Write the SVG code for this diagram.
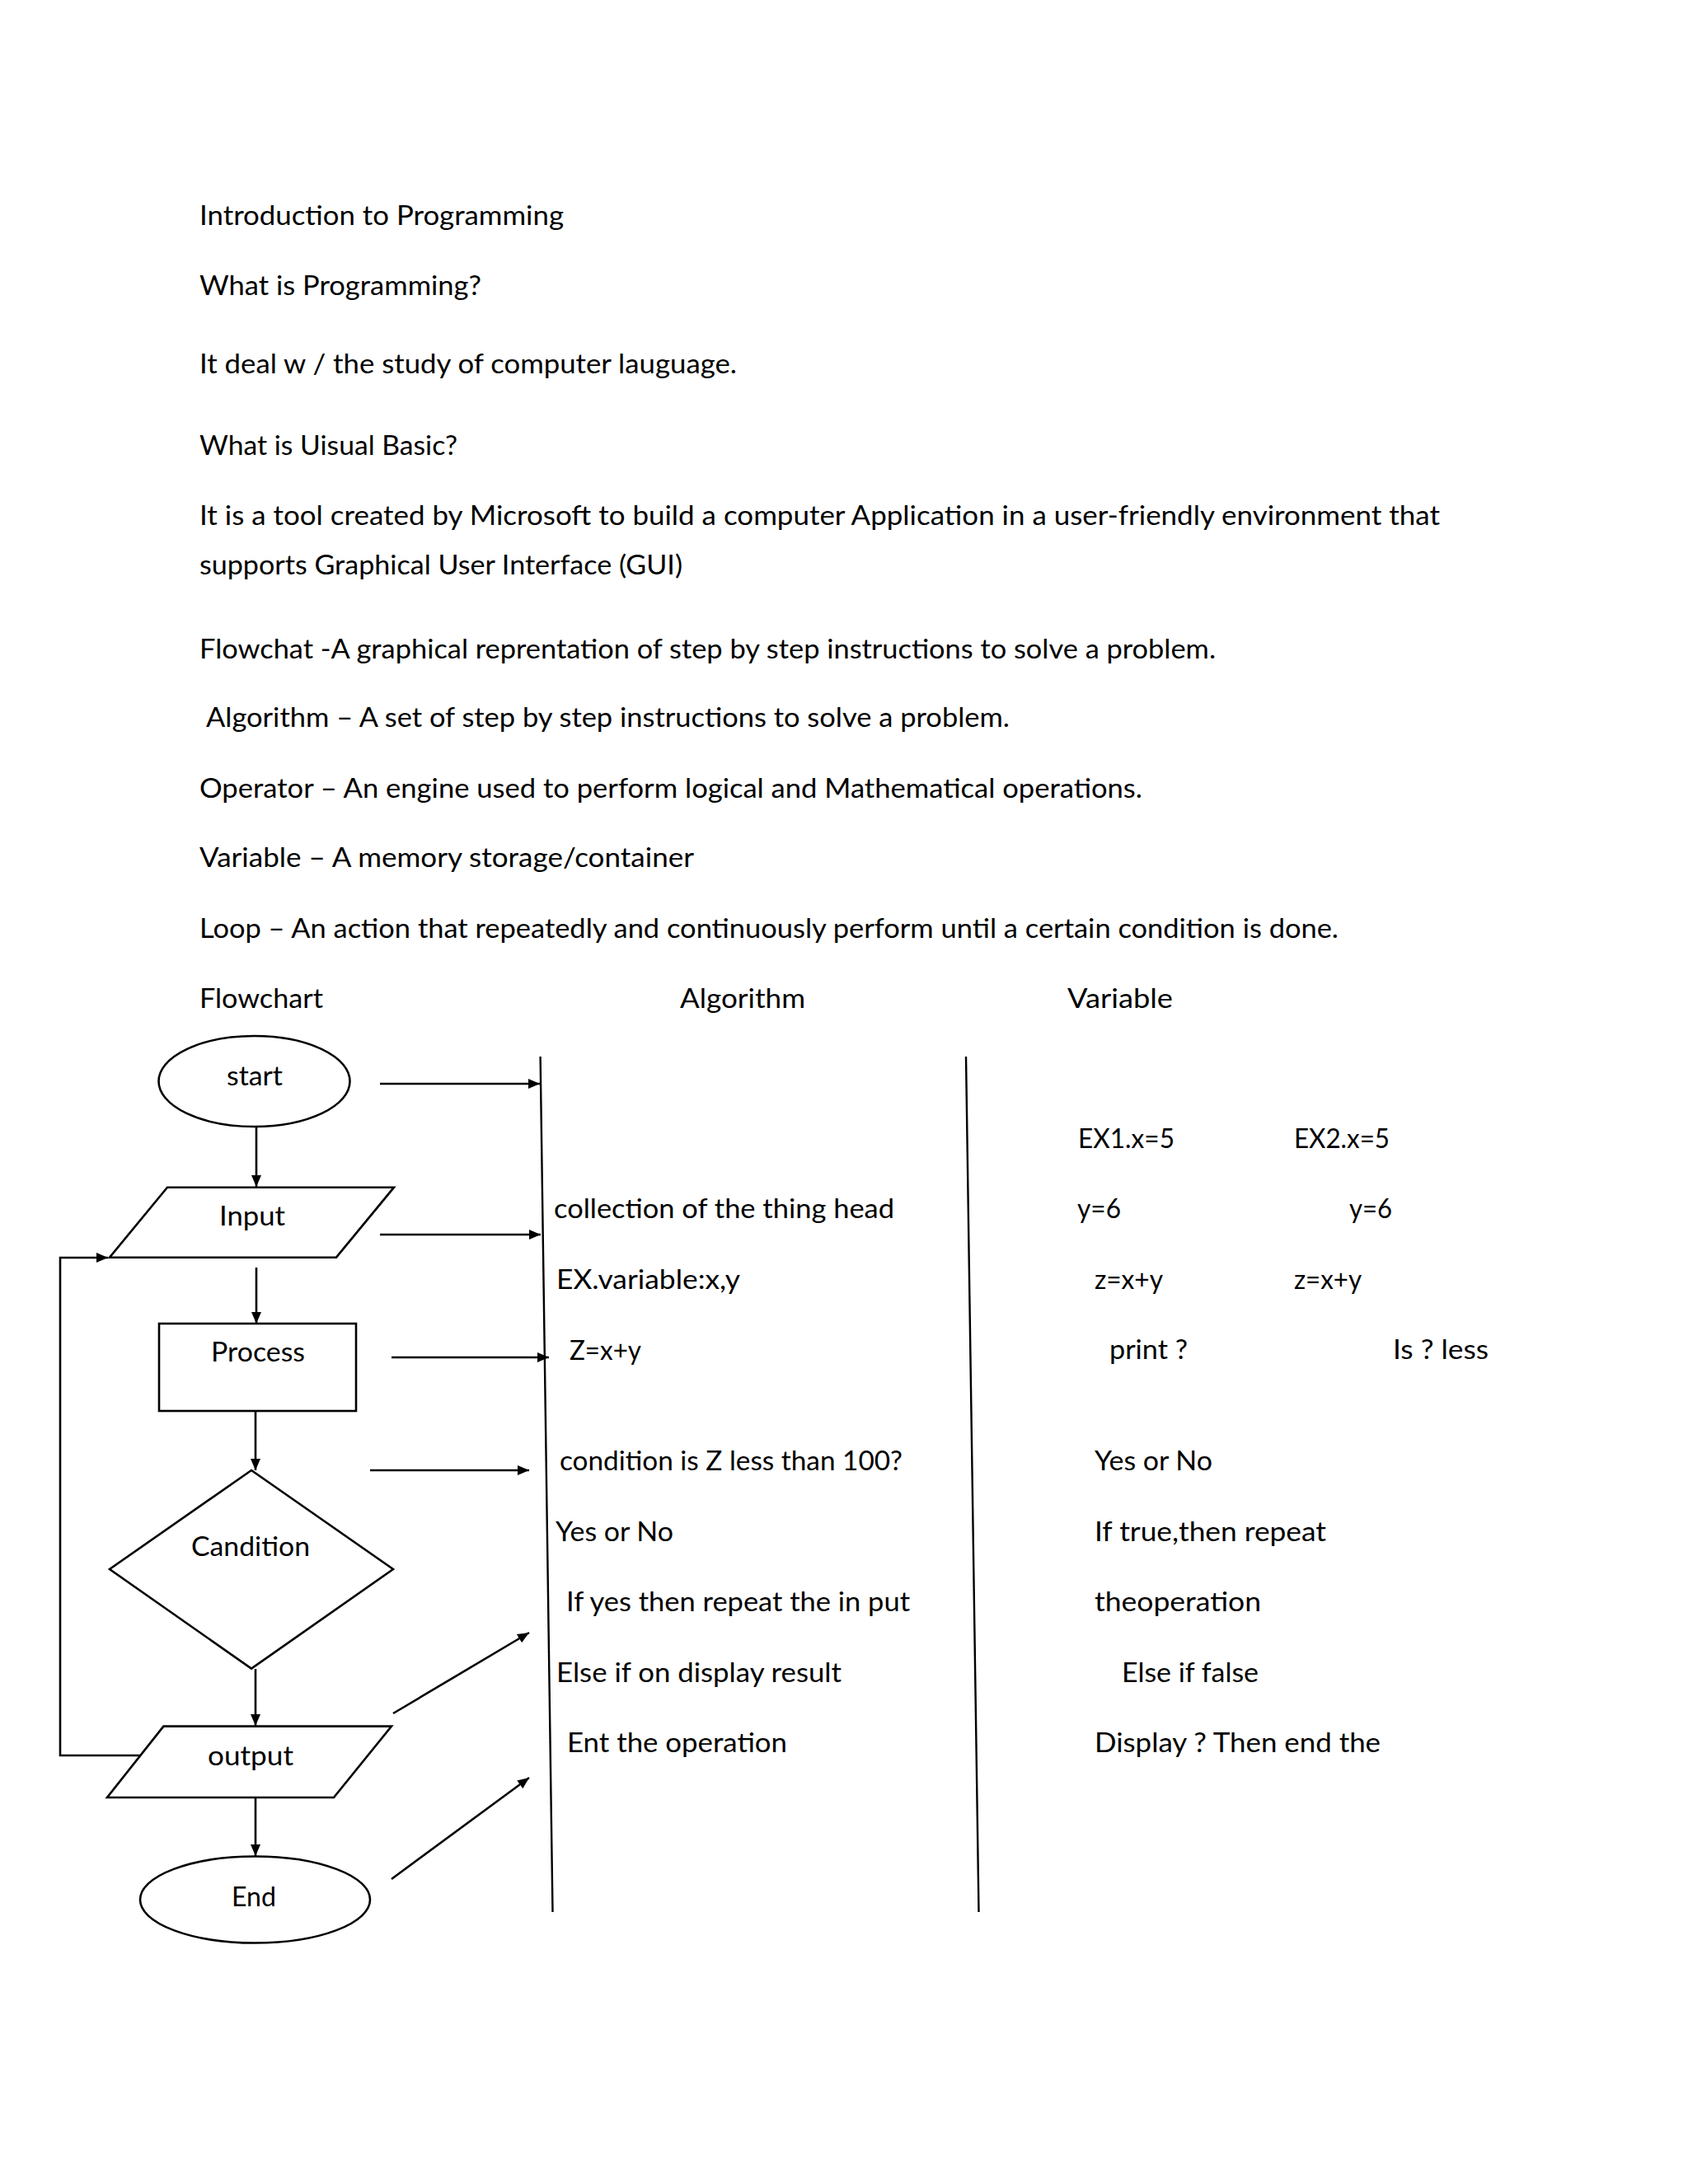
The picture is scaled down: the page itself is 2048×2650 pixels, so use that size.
<svg xmlns="http://www.w3.org/2000/svg" width="2048" height="2650" viewBox="0 0 2048 2650">
<style>
text{font-family:Lato,"Liberation Sans",sans-serif;font-size:33px;fill:#000;}
.s{fill:#fff;stroke:#000;stroke-width:2.6;}
.c{fill:none;stroke:#000;stroke-width:2.6;}
.a{fill:none;stroke:#000;stroke-width:2.6;marker-end:url(#ah);}
.col{fill:none;stroke:#000;stroke-width:2.4;}
</style>
<defs>
<marker id="ah" markerUnits="userSpaceOnUse" markerWidth="16" markerHeight="14" refX="14" refY="6" orient="auto">
<path d="M0,0 L14,6 L0,12 z" fill="#000"/>
</marker>
</defs>
<rect width="2048" height="2650" fill="#fff"/>

<g id="notes">
<text x="242" y="273" textLength="442" lengthAdjust="spacingAndGlyphs">Introduction to Programming</text>
<text x="242" y="358" textLength="342" lengthAdjust="spacingAndGlyphs">What is Programming?</text>
<text x="242" y="453" textLength="652" lengthAdjust="spacingAndGlyphs">It  deal w / the study of computer lauguage.</text>
<text x="242" y="552" textLength="313" lengthAdjust="spacingAndGlyphs">What is Uisual Basic?</text>
<text x="242" y="637" textLength="1505" lengthAdjust="spacingAndGlyphs">It is a tool created by  Microsoft to build a computer  Application in a user-friendly environment that</text>
<text x="242" y="697" textLength="586" lengthAdjust="spacingAndGlyphs">supports Graphical User Interface (GUI)</text>
<text x="242" y="799" textLength="1233" lengthAdjust="spacingAndGlyphs">Flowchat -A graphical reprentation of step by step instructions to solve a problem.</text>
<text x="250" y="882" textLength="975" lengthAdjust="spacingAndGlyphs">Algorithm – A set of step by step instructions to solve a problem.</text>
<text x="242" y="968" textLength="1144" lengthAdjust="spacingAndGlyphs">Operator – An engine used to perform logical and Mathematical operations.</text>
<text x="242" y="1052" textLength="600" lengthAdjust="spacingAndGlyphs">Variable – A memory storage/container</text>
<text x="242" y="1138" textLength="1382" lengthAdjust="spacingAndGlyphs">Loop – An action that repeatedly and continuously perform until a certain condition is done.</text>
<text x="242" y="1223" textLength="150" lengthAdjust="spacingAndGlyphs">Flowchart</text>
<text x="825" y="1223" textLength="152" lengthAdjust="spacingAndGlyphs">Algorithm</text>
<text x="1295" y="1223" textLength="128" lengthAdjust="spacingAndGlyphs">Variable</text>
</g>

<g id="columns">
<line class="col" x1="655.6" y1="1282" x2="670.5" y2="2320"/>
<line class="col" x1="1172" y1="1282" x2="1187.5" y2="2320"/>
</g>

<g id="connectors">
<line class="a" x1="311" y1="1367" x2="311" y2="1440"/>
<line class="a" x1="311" y1="1538" x2="311" y2="1606"/>
<line class="a" x1="310" y1="1712" x2="310" y2="1784"/>
<line class="a" x1="310" y1="2025" x2="310" y2="2094"/>
<line class="a" x1="310" y1="2181" x2="310" y2="2252"/>
<polyline class="a" points="170,2130 73,2130 73,1526 131,1526"/>
<line class="a" x1="461" y1="1315" x2="655" y2="1315"/>
<line class="a" x1="461" y1="1498" x2="656" y2="1498"/>
<line class="a" x1="475" y1="1647" x2="666" y2="1647"/>
<line class="a" x1="449" y1="1784" x2="642" y2="1784"/>
<line class="a" x1="477" y1="2079" x2="642" y2="1981"/>
<line class="a" x1="475" y1="2280" x2="642" y2="2157"/>
</g>

<g id="start">
<ellipse class="s" cx="308.5" cy="1312" rx="116" ry="55"/>
<text x="275" y="1317" textLength="68" lengthAdjust="spacingAndGlyphs">start</text>
</g>
<g id="input">
<polygon class="s" points="203,1440.7 478,1440.7 408,1525.7 133,1525.7"/>
<text x="266" y="1487" textLength="80" lengthAdjust="spacingAndGlyphs">Input</text>
</g>
<g id="process">
<rect class="s" x="193" y="1606" width="239" height="106"/>
<text x="256" y="1652" textLength="114" lengthAdjust="spacingAndGlyphs">Process</text>
</g>
<g id="condition">
<polygon class="s" points="305,1784 477,1904 305,2024.6 133,1904"/>
<text x="232" y="1888" textLength="144" lengthAdjust="spacingAndGlyphs">Candition</text>
</g>
<g id="output">
<polygon class="s" points="198.4,2094.6 475,2094.6 405,2181 130,2181"/>
<text x="252" y="2142" textLength="104" lengthAdjust="spacingAndGlyphs">output</text>
</g>
<g id="end">
<ellipse class="s" cx="309.5" cy="2305" rx="139.5" ry="52.5"/>
<text x="281" y="2313" textLength="54" lengthAdjust="spacingAndGlyphs">End</text>
</g>

<g id="algorithm-text">
<text x="672" y="1478" textLength="413" lengthAdjust="spacingAndGlyphs">collection of the thing head</text>
<text x="675" y="1564" textLength="223" lengthAdjust="spacingAndGlyphs">EX.variable:x,y</text>
<text x="691" y="1650" textLength="87" lengthAdjust="spacingAndGlyphs">Z=x+y</text>
<text x="679" y="1784" textLength="416" lengthAdjust="spacingAndGlyphs">condition is Z less than 100?</text>
<text x="674" y="1870" textLength="143" lengthAdjust="spacingAndGlyphs">Yes or No</text>
<text x="687" y="1955" textLength="417" lengthAdjust="spacingAndGlyphs">If yes then repeat the in put</text>
<text x="675" y="2041" textLength="346" lengthAdjust="spacingAndGlyphs">Else if on display result</text>
<text x="688" y="2126" textLength="267" lengthAdjust="spacingAndGlyphs">Ent the operation</text>
</g>

<g id="variable-text">
<text x="1308" y="1393" textLength="117" lengthAdjust="spacingAndGlyphs">EX1.x=5</text>
<text x="1570" y="1393" textLength="116" lengthAdjust="spacingAndGlyphs">EX2.x=5</text>
<text x="1307" y="1478" textLength="53" lengthAdjust="spacingAndGlyphs">y=6</text>
<text x="1637" y="1478" textLength="52" lengthAdjust="spacingAndGlyphs">y=6</text>
<text x="1328" y="1564" textLength="83" lengthAdjust="spacingAndGlyphs">z=x+y</text>
<text x="1570" y="1564" textLength="82" lengthAdjust="spacingAndGlyphs">z=x+y</text>
<text x="1346" y="1649" textLength="95" lengthAdjust="spacingAndGlyphs">print ?</text>
<text x="1690" y="1649" textLength="116" lengthAdjust="spacingAndGlyphs">Is ? less</text>
<text x="1328" y="1784" textLength="143" lengthAdjust="spacingAndGlyphs">Yes or No</text>
<text x="1328" y="1870" textLength="281" lengthAdjust="spacingAndGlyphs">If true,then repeat</text>
<text x="1328" y="1955" textLength="202" lengthAdjust="spacingAndGlyphs">theoperation</text>
<text x="1361" y="2041" textLength="166" lengthAdjust="spacingAndGlyphs">Else if false</text>
<text x="1328" y="2126" textLength="347" lengthAdjust="spacingAndGlyphs">Display ?  Then end the</text>
</g>
</svg>
